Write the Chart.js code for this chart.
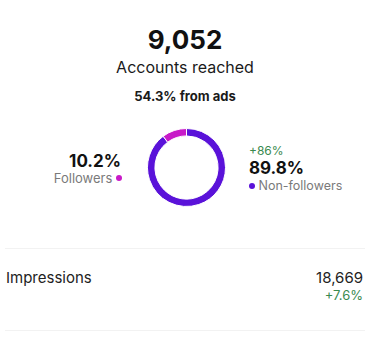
<!DOCTYPE html>
<html>
<head>
<meta charset="utf-8">
<script src="https://cdn.jsdelivr.net/npm/chart.js@4"></script>
<style>
  html, body { margin: 0; padding: 0; background: #fff; width: 370px; height: 343px; overflow: hidden; }
  body { position: relative; font-family: Inter, "Noto Sans", sans-serif; color: #111; }
  .t { position: absolute; white-space: nowrap; line-height: 1; }
  .c { left: 0; width: 370px; text-align: center; }
  .dot { display: inline-block; width: 6px; height: 6px; border-radius: 50%; vertical-align: middle; position: relative; top: -1px; }
  .sep { position: absolute; left: 5px; width: 360px; height: 1px; background: #f2f2f2; }
  #wrap { position: absolute; left: 147px; top: 128px; width: 79px; height: 79px; }
</style>
</head>
<body>
<div class="t c" id="total" style="top:27px; font-size:26px; font-weight:700;"></div>
<div class="t c" id="subtitle" style="top:59px; font-size:16px; font-weight:400; color:#1a1a1a;"></div>
<div class="t c" id="ads" style="top:90px; font-size:13px; font-weight:700; color:#1a1a1a;"></div>

<div class="t" id="leftPct" style="right:249px; top:153px; font-size:17px; font-weight:700;"></div>
<div class="t" id="leftLbl" style="right:248px; top:172px; font-size:13px; color:#7a7a7a;"></div>

<div class="t" id="rightDelta" style="left:249px; top:145px; font-size:12px; color:#3a8a4f;"></div>
<div class="t" id="rightPct" style="left:249px; top:160px; font-size:17px; font-weight:700;"></div>
<div class="t" id="rightLbl" style="left:249px; top:180px; font-size:12.5px; color:#7a7a7a;"></div>

<div id="wrap"><canvas id="donut" width="79" height="79"></canvas></div>

<div class="sep" style="top:248px;"></div>
<div class="t" id="metricName" style="left:6px; top:270px; font-size:15px; color:#222;"></div>
<div class="t" id="metricVal" style="right:7px; top:270px; font-size:15px; color:#222;"></div>
<div class="t" id="metricDelta" style="right:7px; top:289px; font-size:13px; color:#3a8a4f;"></div>
<div class="sep" style="top:330px;"></div>

<script>
// ---- data ----
const segmentLabels = ['Non-followers', 'Followers'];
const segmentValues = [89.8, 10.2];
const segmentColors = ['#5a12d9', '#c81ac8'];
const headlineValue = '9,052';
const headlineLabel = 'Accounts reached';
const adsShare = '54.3% from ads';
const nonFollowerChange = '+86%';
const metricLabels = ['Impressions'];
const metricValues = ['18,669'];
const metricChanges = ['+7.6%'];

// ---- text ----
document.getElementById('total').textContent = headlineValue;
document.getElementById('subtitle').textContent = headlineLabel;
document.getElementById('ads').textContent = adsShare;
document.getElementById('leftPct').textContent = segmentValues[1].toFixed(1) + '%';
document.getElementById('leftLbl').innerHTML = segmentLabels[1] + ' <span class="dot" style="background:' + segmentColors[1] + '"></span>';
document.getElementById('rightDelta').textContent = nonFollowerChange;
document.getElementById('rightPct').textContent = segmentValues[0].toFixed(1) + '%';
document.getElementById('rightLbl').innerHTML = '<span class="dot" style="background:' + segmentColors[0] + '"></span> ' + segmentLabels[0];
document.getElementById('metricName').textContent = metricLabels[0];
document.getElementById('metricVal').textContent = metricValues[0];
document.getElementById('metricDelta').textContent = metricChanges[0];

// ---- chart ----
new Chart(document.getElementById('donut'), {
  type: 'doughnut',
  data: {
    labels: segmentLabels,
    datasets: [{
      data: segmentValues,
      backgroundColor: segmentColors,
      borderColor: '#ffffff',
      borderWidth: 1
    }]
  },
  options: {
    responsive: false,
    animation: false,
    cutout: '81%',
    layout: { padding: 0 },
    plugins: { legend: { display: false }, tooltip: { enabled: false } }
  }
});
</script>
</body>
</html>
